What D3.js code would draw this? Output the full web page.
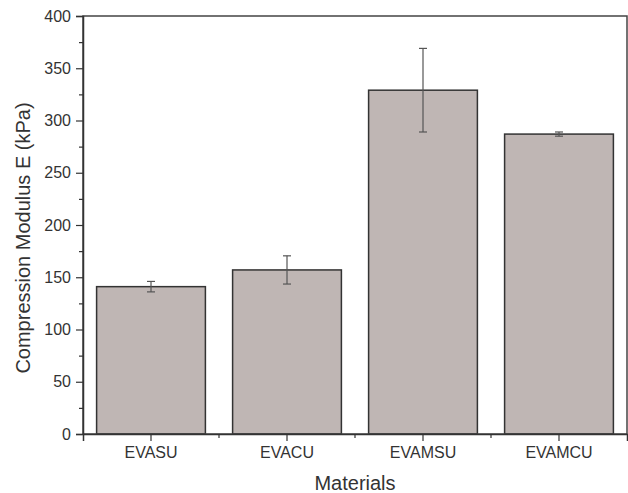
<!DOCTYPE html>
<html><head><meta charset="utf-8">
<script src="https://cdn.jsdelivr.net/npm/d3@7"></script>
<style>body{margin:0;background:#fff}svg{display:block}text{font-family:"Liberation Sans",Arial,sans-serif}</style>
</head><body>
<script>
const categories = ["EVASU","EVACU","EVAMSU","EVAMCU"];
const values = [141, 157, 329, 287];
const errors = [5, 13.5, 40, 2];
const yTicks = [0,50,100,150,200,250,300,350,400];

const W=628,H=493;
const m={l:83,r:1,t:16,b:59};
const svg=d3.select("body").append("svg").attr("width",W).attr("height",H);
const x=d3.scaleBand().domain(categories).range([m.l,W-m.r]).paddingInner(0.2).paddingOuter(0.1);
const y=d3.scaleLinear().domain([0,400]).range([H-m.b,m.t]);
const col="#333";

// bars
svg.selectAll("rect.bar").data(categories).enter().append("rect")
 .attr("x",d=>x(d)).attr("width",x.bandwidth())
 .attr("y",(d,i)=>y(values[i])).attr("height",(d,i)=>y(0)-y(values[i]))
 .attr("fill","#bfb6b4").attr("stroke","#333").attr("stroke-width",1.5);

// error bars
const eb=svg.append("g").attr("stroke","#555").attr("stroke-width",1.2);
categories.forEach((c,i)=>{
  const cx=x(c)+x.bandwidth()/2;
  eb.append("line").attr("x1",cx).attr("x2",cx).attr("y1",y(values[i]+errors[i])).attr("y2",y(values[i]-errors[i]));
  [values[i]+errors[i],values[i]-errors[i]].forEach(v=>{
    eb.append("line").attr("x1",cx-4).attr("x2",cx+4).attr("y1",y(v)).attr("y2",y(v));
  });
});

// frame
svg.append("rect").attr("x",m.l).attr("y",m.t).attr("width",W-m.r-m.l).attr("height",y(0)-m.t)
 .attr("fill","none").attr("stroke","#444").attr("stroke-width",1.5);

// y axis
const ya=svg.append("g").attr("transform",`translate(${m.l},0)`)
 .call(d3.axisLeft(y).tickValues(yTicks).tickSize(7).tickPadding(5));
ya.select(".domain").attr("stroke",col).attr("stroke-width",1.5);
ya.selectAll(".tick line").attr("stroke",col).attr("stroke-width",1.2);
ya.selectAll("text").attr("font-size",16).attr("fill","#333").style("font-family","Liberation Sans, Arial, sans-serif");
const yMinor=d3.range(25,400,50);
svg.append("g").attr("transform",`translate(${m.l},0)`)
 .call(d3.axisLeft(y).tickValues(yMinor).tickSize(4).tickFormat(""))
 .call(g=>{g.select(".domain").remove();g.selectAll("line").attr("stroke",col).attr("stroke-width",1.2);});

// x axis
const xa=svg.append("g").attr("transform",`translate(0,${y(0)})`)
 .call(d3.axisBottom(x).tickSize(7).tickPadding(6));
xa.select(".domain").attr("stroke",col).attr("stroke-width",1.5);
xa.selectAll(".tick line").attr("stroke",col).attr("stroke-width",1.2);
xa.selectAll("text").attr("font-size",16).attr("fill","#333").style("font-family","Liberation Sans, Arial, sans-serif");
// minor ticks between categories
const minorX=categories.slice(1).map(c=>x(c)-x.step()*x.paddingInner()/2);
svg.append("g").selectAll("line").data(minorX).enter().append("line")
 .attr("x1",d=>d).attr("x2",d=>d).attr("y1",y(0)).attr("y2",y(0)+4).attr("stroke",col).attr("stroke-width",1.2);

// labels
svg.append("text").attr("x",(m.l+W-m.r)/2).attr("y",490).attr("text-anchor","middle")
 .attr("font-size",20).attr("fill","#333").text("Materials");
svg.append("text").attr("transform",`translate(30,238) rotate(-90)`).attr("text-anchor","middle")
 .attr("font-size",20).attr("fill","#333").text("Compression Modulus E (kPa)");
</script>
</body></html>
